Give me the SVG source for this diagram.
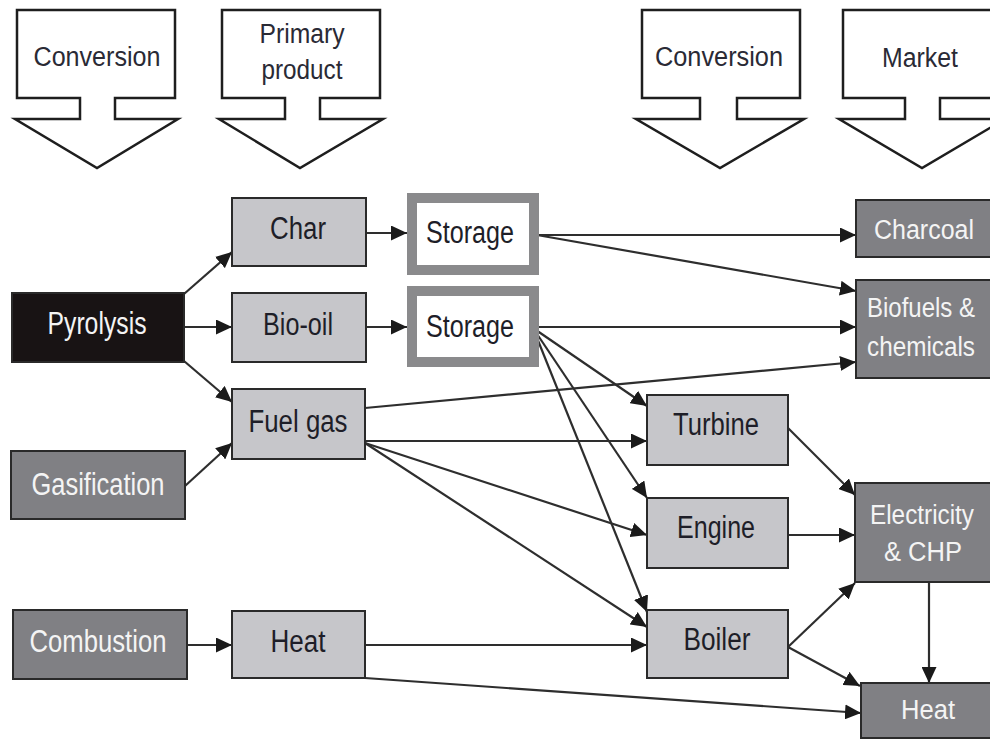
<svg xmlns="http://www.w3.org/2000/svg" width="990" height="740" viewBox="0 0 990 740">
<defs>
<marker id="ah" markerUnits="userSpaceOnUse" markerWidth="17" markerHeight="15" refX="16" refY="7.5" orient="auto">
<path d="M0,0 L16,7.5 L0,15 Z" fill="#1a1a1a"/>
</marker>
<style>
.hdr{fill:#fff;stroke:#1e1e1e;stroke-width:2.5;stroke-linejoin:miter}
.ht{font-family:"Liberation Sans",Arial,sans-serif;font-size:27px;fill:#2a2a35;text-anchor:middle}
.lt{fill:#c6c6ca;stroke:#2a2a2a;stroke-width:2}
.dk{fill:#808084;stroke:#2a2a2a;stroke-width:2}
.bk{fill:#181314;stroke:#2a2a2a;stroke-width:2}
.st{fill:#fff;stroke:#8a8a8c;stroke-width:10}
.t{font-family:"Liberation Sans",Arial,sans-serif;font-size:31px;text-anchor:middle;fill:#1e1e28}
.w{fill:#f4f4f4}
.r{font-size:27px}
.c line{stroke:#2e2e2e;stroke-width:2.2;marker-end:url(#ah)}
</style>
</defs>
<rect width="990" height="740" fill="#fff"/>

<g id="hdr-conversion1">
<path class="hdr" d="M17,10 H175 V98 H115 V119 H178 L97,168 L15,119 H80 V98 H17 Z"/>
<text class="ht" x="97" y="66" textLength="127" lengthAdjust="spacingAndGlyphs">Conversion</text>
</g>
<g id="hdr-primary">
<path class="hdr" d="M222,10 H380 V98 H320 V119 H383 L300,168 L219,119 H285 V98 H222 Z"/>
<text class="ht" x="302" y="43" textLength="85" lengthAdjust="spacingAndGlyphs">Primary</text>
<text class="ht" x="302" y="79" textLength="81" lengthAdjust="spacingAndGlyphs">product</text>
</g>
<g id="hdr-conversion2">
<path class="hdr" d="M642,10 H800 V98 H737 V119 H804 L720,168 L636,119 H700 V98 H642 Z"/>
<text class="ht" x="719" y="66" textLength="128" lengthAdjust="spacingAndGlyphs">Conversion</text>
</g>
<g id="hdr-market">
<path class="hdr" d="M843,10 H1001 V98 H940 V119 H1005 L922,168 L839,119 H905 V98 H843 Z"/>
<text class="ht" x="920" y="67" textLength="76" lengthAdjust="spacingAndGlyphs">Market</text>
</g>

<g class="c" id="connectors">
<line x1="184" y1="294" x2="232" y2="252"/>
<line x1="184" y1="327" x2="232" y2="327"/>
<line x1="184" y1="361" x2="232" y2="402"/>
<line x1="185" y1="486" x2="232" y2="443"/>
<line x1="187" y1="645" x2="232" y2="645"/>
<line x1="366" y1="233" x2="407" y2="233"/>
<line x1="366" y1="327" x2="407" y2="327"/>
<line x1="537" y1="235" x2="856" y2="235"/>
<line x1="537" y1="235" x2="856" y2="291"/>
<line x1="533" y1="327" x2="856" y2="327"/>
<line x1="533" y1="328" x2="647" y2="406"/>
<line x1="533" y1="328" x2="647" y2="498"/>
<line x1="533" y1="328" x2="647" y2="612"/>
<line x1="365" y1="408" x2="856" y2="362"/>
<line x1="365" y1="441" x2="647" y2="441"/>
<line x1="365" y1="443" x2="647" y2="535"/>
<line x1="365" y1="443" x2="647" y2="627"/>
<line x1="365" y1="645" x2="647" y2="645"/>
<line x1="365" y1="678" x2="861" y2="713"/>
<line x1="788" y1="428" x2="855" y2="495"/>
<line x1="788" y1="535" x2="855" y2="535"/>
<line x1="788" y1="647" x2="855" y2="583"/>
<line x1="788" y1="647" x2="860" y2="686"/>
<line x1="929" y1="582" x2="929" y2="683"/>
</g>

<g id="pyrolysis"><rect class="bk" x="12" y="293" width="172" height="69"/><text class="t w" x="97" y="334" textLength="99" lengthAdjust="spacingAndGlyphs">Pyrolysis</text></g>
<g id="gasification"><rect class="dk" x="11" y="451" width="174" height="68"/><text class="t w" x="98" y="495" textLength="133" lengthAdjust="spacingAndGlyphs">Gasification</text></g>
<g id="combustion"><rect class="dk" x="13" y="610" width="174" height="69"/><text class="t w" x="98" y="652" textLength="137" lengthAdjust="spacingAndGlyphs">Combustion</text></g>

<g id="char"><rect class="lt" x="232" y="198" width="134" height="68"/><text class="t" x="298" y="239" textLength="56" lengthAdjust="spacingAndGlyphs">Char</text></g>
<g id="biooil"><rect class="lt" x="232" y="293" width="134" height="69"/><text class="t" x="298" y="335" textLength="70" lengthAdjust="spacingAndGlyphs">Bio-oil</text></g>
<g id="fuelgas"><rect class="lt" x="232" y="389" width="133" height="70"/><text class="t" x="298" y="432" textLength="99" lengthAdjust="spacingAndGlyphs">Fuel gas</text></g>
<g id="heat1"><rect class="lt" x="232" y="611" width="133" height="67"/><text class="t" x="298" y="652" textLength="55" lengthAdjust="spacingAndGlyphs">Heat</text></g>

<g id="storage1"><rect class="st" x="412" y="198" width="122" height="72"/><text class="t" x="470" y="243" textLength="88" lengthAdjust="spacingAndGlyphs">Storage</text></g>
<g id="storage2"><rect class="st" x="412" y="291" width="122" height="71"/><text class="t" x="470" y="337" textLength="88" lengthAdjust="spacingAndGlyphs">Storage</text></g>

<g id="turbine"><rect class="lt" x="647" y="395" width="141" height="70"/><text class="t" x="716" y="435" textLength="86" lengthAdjust="spacingAndGlyphs">Turbine</text></g>
<g id="engine"><rect class="lt" x="647" y="498" width="141" height="70"/><text class="t" x="716" y="538" textLength="78" lengthAdjust="spacingAndGlyphs">Engine</text></g>
<g id="boiler"><rect class="lt" x="647" y="610" width="141" height="68"/><text class="t" x="717" y="650" textLength="67" lengthAdjust="spacingAndGlyphs">Boiler</text></g>

<g id="charcoal"><rect class="dk" x="856" y="200" width="150" height="57"/><text class="t w r" x="924" y="239" textLength="100" lengthAdjust="spacingAndGlyphs">Charcoal</text></g>
<g id="biofuels"><rect class="dk" x="856" y="280" width="150" height="98"/><text class="t w r" x="921" y="317" textLength="108" lengthAdjust="spacingAndGlyphs">Biofuels &amp;</text><text class="t w r" x="921" y="356" textLength="108" lengthAdjust="spacingAndGlyphs">chemicals</text></g>
<g id="electricity"><rect class="dk" x="855" y="483" width="150" height="99"/><text class="t w r" x="922" y="524" textLength="104" lengthAdjust="spacingAndGlyphs">Electricity</text><text class="t w r" x="923" y="561" textLength="78" lengthAdjust="spacingAndGlyphs">&amp; CHP</text></g>
<g id="heat2"><rect class="dk" x="861" y="683" width="150" height="55"/><text class="t w r" x="928" y="719" textLength="54" lengthAdjust="spacingAndGlyphs">Heat</text></g>
</svg>
